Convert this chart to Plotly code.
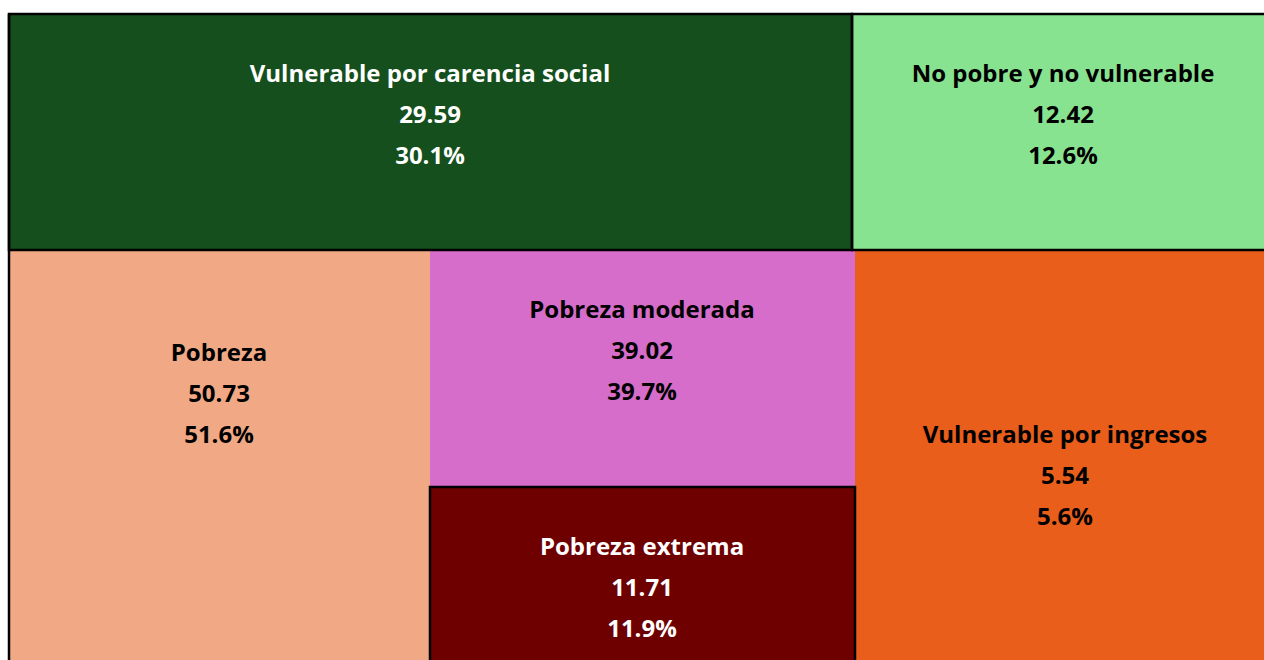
import plotly.graph_objects as go

# ---- data ----
labels = ["Vulnerable por carencia social", "No pobre y no vulnerable", "Pobreza",
          "Pobreza moderada", "Pobreza extrema", "Vulnerable por ingresos"]
parents = ["", "", "", "Pobreza", "Pobreza", ""]
values = [29.59, 12.42, 50.73, 39.02, 11.71, 5.54]

# ---- style / layout (cell boxes in page pixels, x0, x1, y0, y1) ----
colors = ["#154F1D", "#88E391", "#F0A984", "#D66DCA", "#6E0000", "#E85E1A"]
text_colors = ["white", "black", "black", "black", "white", "black"]
boxes = [(9, 852, 14, 250), (852, 1290, 14, 250), (9, 430, 250, 700),
         (430, 855, 250, 487), (430, 855, 487, 700), (855, 1290, 250, 700)]
label_anchor = [(430, 76), (1063, 76), (219, 355), (642, 312), (642, 549), (1065, 437)]
outlined = [True, True, False, False, True, False]
LINE_GAP = 41

root_total = sum(v for v, p in zip(values, parents) if p == "")

fig = go.Figure()
shapes = []
for i, (x0, x1, y0, y1) in enumerate(boxes):
    shapes.append(dict(type="rect", xref="x", yref="y", x0=x0, x1=x1, y0=y0, y1=y1,
                       fillcolor=colors[i], line=dict(width=0), layer="below"))
for i, (x0, x1, y0, y1) in enumerate(boxes):
    if outlined[i]:
        shapes.append(dict(type="rect", xref="x", yref="y", x0=x0, x1=x1, y0=y0, y1=y1,
                           fillcolor="rgba(0,0,0,0)", line=dict(width=2.5, color="black"),
                           layer="above"))
shapes.append(dict(type="line", xref="x", yref="y", x0=9, x1=9, y0=14, y1=700,
                   line=dict(width=2.5, color="black")))
fig.update_layout(shapes=shapes)

for i, lab in enumerate(labels):
    ax, ay = label_anchor[i]
    lines = [lab, f"{values[i]:.2f}", f"{values[i] / root_total * 100:.1f}%"]
    fig.add_trace(go.Scatter(
        x=[ax] * 3, y=[ay + k * LINE_GAP for k in range(3)],
        mode="text", text=lines, textposition="middle center",
        textfont=dict(family="Open Sans", size=24, color=text_colors[i], weight="bold"),
        hoverinfo="skip", showlegend=False, cliponaxis=False))

fig.update_layout(
    width=1264, height=660, margin=dict(l=0, r=0, t=0, b=0),
    paper_bgcolor="white", plot_bgcolor="white",
    xaxis=dict(range=[0, 1264], visible=False, fixedrange=True),
    yaxis=dict(range=[660, 0], visible=False, fixedrange=True),
    showlegend=False, hovermode=False,
)
fig.write_html(
    "out.html",
    config={"displayModeBar": False, "staticPlot": True},
    post_script=("document.documentElement.style.overflow='hidden';"
                 "document.body.style.overflow='hidden';"
                 "document.body.style.margin='0';"),
)
